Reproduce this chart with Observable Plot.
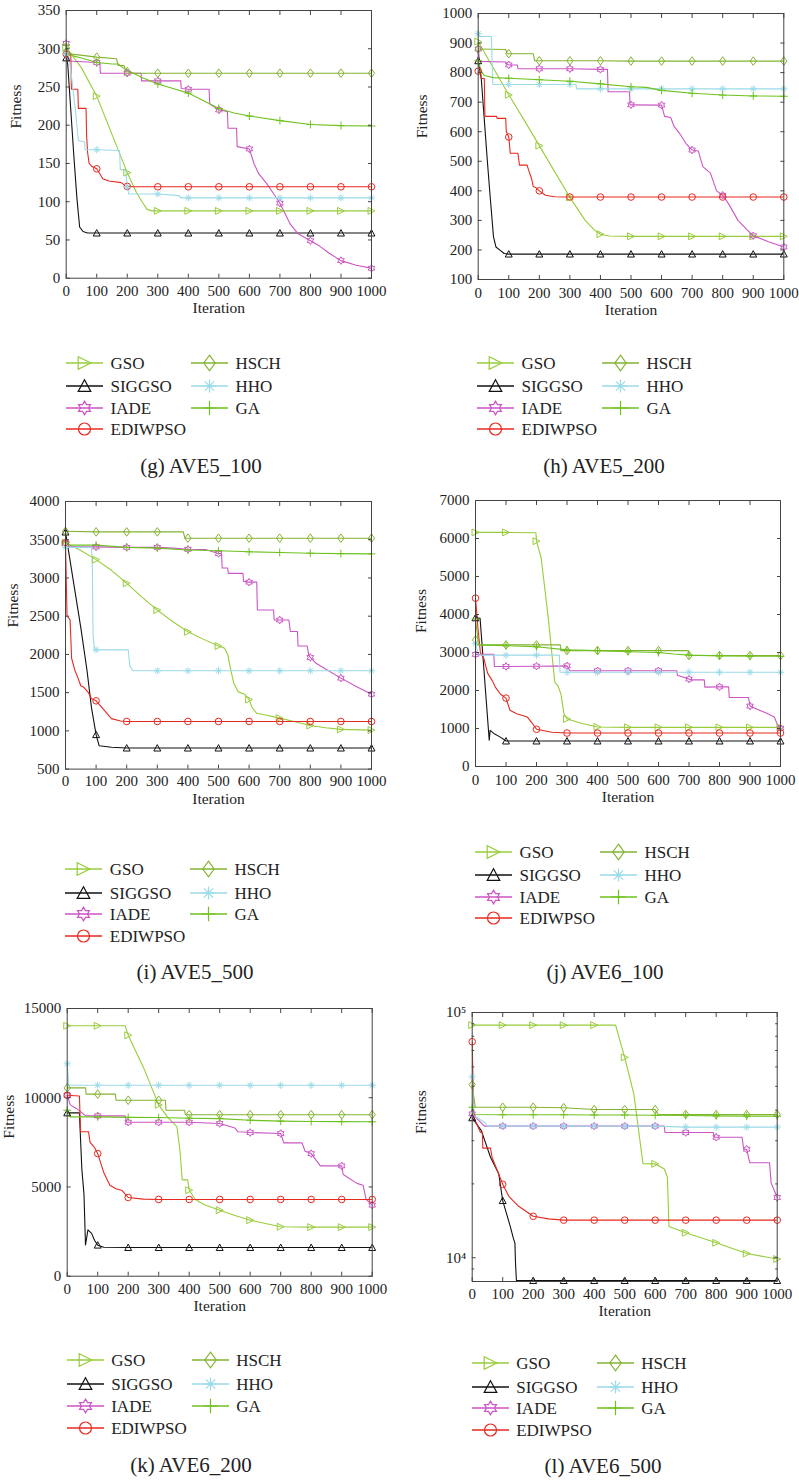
<!DOCTYPE html>
<html><head><meta charset="utf-8">
<script src="https://cdn.jsdelivr.net/npm/d3@7"></script>
<script src="https://cdn.jsdelivr.net/npm/@observablehq/plot@0.6"></script>
<style>
body{margin:0;background:#fff;}
#root{position:relative;width:799px;height:1480px;overflow:hidden;background:#fff;font-family:"Liberation Serif","DejaVu Serif",serif;color:#222;}
.lt{position:absolute;font-size:17px;line-height:1;white-space:nowrap;transform:translateY(-50%);}
.cap{position:absolute;font-size:21px;line-height:1;white-space:nowrap;transform:translate(-50%,-50%);}
</style></head><body><div id="root"></div>
<script>
// ---------- data ----------
const seriesNames = ["GSO","SIGGSO","IADE","EDIWPSO","HSCH","HHO","GA"];
const xTicks = [0,100,200,300,400,500,600,700,800,900,1000];
const gYTicks = [0,50,100,150,200,250,300,350];
const hYTicks = [100,200,300,400,500,600,700,800,900,1000];
const iYTicks = [500,1000,1500,2000,2500,3000,3500,4000];
const jYTicks = [0,1000,2000,3000,4000,5000,6000,7000];
const kYTicks = [0,5000,10000,15000];
const lYTicks = [10000,100000];
const lYMinor = [9000,20000,30000,40000,50000,60000,70000,80000,90000];
const lYLabels = ["10\u2074","10\u2075"];

// (g) AVE5_100
const gGSO = [[0,302],[50,275],[100,238],[150,188],[200,138],[230,112],[250,99],[265,90],[280,88],[300,88],[400,88],[500,88],[600,88],[700,88],[800,88],[900,88],[1000,88]];
const gSIGGSO = [[0,288],[5,280],[15,220],[25,160],[35,105],[44,67],[55,61],[70,59],[100,59],[200,59],[300,59],[400,59],[500,59],[600,59],[700,59],[800,59],[900,59],[1000,59]];
const gIADE = [[0,307],[6,284],[100,282],[110,282],[112,268],[200,268],[245,268],[247,258],[300,258],[375,258],[377,248],[400,247],[468,247],[470,228],[500,220],[528,218],[530,196],[558,196],[560,172],[600,169],[615,150],[630,137],[658,123],[680,110],[700,98],[715,86],[735,70],[760,58],[800,49],[830,42],[860,33],[900,23],[950,17],[1000,13]];
const gEDIWPSO = [[0,293],[15,293],[17,247],[38,247],[40,222],[65,222],[67,185],[70,165],[75,150],[85,146],[100,143],[120,130],[140,127],[180,125],[190,122],[200,120],[220,119.5],[300,119.5],[400,119.5],[500,119.5],[600,119.5],[700,119.5],[800,119.5],[900,119.5],[1000,119.5]];
const gHSCH = [[0,296],[20,293],[100,289],[165,287],[170,278],[190,278],[195,270],[200,270],[220,268],[300,268],[400,268],[500,268],[600,268],[700,268],[800,268],[900,268],[1000,268]];
const gHHO = [[0,293],[10,288],[20,255],[30,220],[40,180],[60,178],[62,168],[100,168],[175,167],[177,142],[195,142],[200,119],[205,110],[300,110],[370,108],[375,105],[400,105],[500,105],[600,105],[700,105],[800,105],[900,105],[1000,105]];
const gGA = [[0,305],[10,292],[50,288],[100,282],[150,280],[170,280],[190,274],[210,270],[250,262],[300,254],[350,248],[400,242],[450,232],[500,222],[550,216],[600,212],[700,206],[800,201],[900,199.5],[1000,199]];

// (h) AVE5_200
const hGSO = [[0,905],[50,815],[100,725],[150,640],[200,553],[250,465],[300,378],[350,300],[380,268],[400,253],[430,247],[500,246],[600,246],[700,246],[800,246],[900,246],[1000,246]];
const hSIGGSO = [[0,840],[10,780],[20,640],[30,500],[40,370],[50,245],[58,210],[70,200],[85,188],[100,186],[200,186],[300,186],[400,186],[500,186],[600,186],[700,186],[800,186],[900,186],[1000,186]];
const hIADE = [[0,880],[5,838],[90,836],[95,828],[100,826],[128,826],[130,813],[200,813],[300,813],[400,811],[423,811],[425,735],[495,735],[497,691],[500,691],[600,690],[610,652],[630,648],[640,620],[660,593],[680,560],[700,538],[720,535],[735,482],[760,460],[780,400],[800,385],[820,355],[850,300],[880,268],[900,248],[950,228],[1000,210]];
const hEDIWPSO = [[0,805],[8,800],[10,780],[20,780],[22,652],[60,652],[62,645],[90,645],[92,600],[100,582],[105,527],[130,527],[135,487],[160,487],[165,470],[175,440],[180,415],[190,410],[200,400],[220,385],[250,380],[300,379],[400,379],[500,379],[600,379],[700,379],[800,379],[900,379],[1000,379]];
const hHSCH = [[0,880],[90,878],[95,864],[100,864],[180,864],[185,840],[200,840],[300,840],[400,840],[500,839],[600,839],[700,839],[800,839],[900,839],[1000,839]];
const hHHO = [[0,932],[5,922],[43,922],[48,760],[100,760],[200,760],[300,760],[320,760],[322,745],[400,745],[500,745],[600,745],[700,745],[800,745],[900,745],[1000,745]];
const hGA = [[0,840],[10,805],[20,790],[50,783],[100,781],[200,776],[300,771],[400,762],[500,752],[550,750],[600,740],[700,730],[800,724],[900,721],[1000,720]];

// (i) AVE5_500
const iGSO = [[0,3460],[50,3360],[100,3240],[150,3100],[200,2930],[250,2750],[300,2580],[350,2430],[400,2295],[450,2200],[500,2110],[520,2080],[530,2000],[540,1800],[550,1620],[565,1510],[585,1480],[600,1410],[610,1300],[625,1230],[650,1210],[700,1167],[750,1120],[800,1070],[850,1040],[900,1020],[1000,1010]];
const iSIGGSO = [[0,3600],[10,3350],[30,2850],[50,2350],[70,1800],[85,1300],[100,950],[110,805],[150,785],[200,775],[300,775],[400,775],[500,775],[600,775],[700,775],[800,775],[900,775],[1000,775]];
const iIADE = [[0,3450],[5,3410],[100,3406],[200,3400],[300,3400],[350,3390],[400,3375],[460,3370],[500,3320],[510,3320],[512,3130],[530,3130],[532,3060],[580,3060],[582,2955],[600,2945],[625,2945],[627,2580],[680,2580],[682,2450],[700,2450],[730,2450],[735,2300],[758,2300],[760,2110],[790,2110],[795,1990],[800,1960],[820,1880],[850,1810],[900,1690],[950,1580],[1000,1480]];
const iEDIWPSO = [[0,3460],[5,2500],[10,2480],[15,2450],[20,1950],[30,1800],[40,1700],[50,1590],[60,1570],[75,1500],[85,1420],[100,1393],[120,1300],[150,1160],[180,1130],[200,1123],[300,1123],[400,1123],[500,1123],[600,1123],[700,1123],[800,1123],[900,1123],[1000,1123]];
const iHSCH = [[0,3610],[100,3603],[200,3603],[300,3603],[385,3603],[390,3520],[400,3520],[500,3520],[600,3520],[700,3520],[800,3520],[900,3520],[1000,3520]];
const iHHO = [[0,3400],[85,3400],[88,3115],[90,2256],[95,2060],[100,2060],[205,2060],[210,1850],[220,1786],[300,1786],[400,1786],[500,1786],[600,1786],[700,1786],[800,1786],[900,1786],[1000,1786]];
const iGA = [[0,3460],[10,3430],[100,3430],[200,3400],[300,3390],[400,3365],[500,3355],[600,3342],[700,3333],[800,3324],[900,3318],[1000,3315]];

// (j) AVE6_100
const jGSO = [[0,6160],[100,6160],[198,6150],[200,5930],[215,5500],[230,4500],[240,3800],[250,3000],[260,2220],[270,2130],[280,1910],[290,1390],[300,1250],[350,1130],[400,1040],[500,1030],[600,1030],[700,1030],[800,1030],[900,1030],[1000,1030]];
const jSIGGSO = [[0,3912],[15,3900],[45,690],[48,950],[60,870],[80,780],[100,670],[200,670],[300,670],[400,670],[500,670],[600,670],[700,670],[800,670],[900,670],[1000,670]];
const jIADE = [[0,2950],[60,2950],[62,2630],[100,2632],[200,2640],[300,2649],[310,2520],[400,2520],[500,2520],[600,2520],[660,2520],[662,2400],[700,2300],[710,2280],[750,2280],[752,2090],[800,2096],[830,2096],[832,1816],[895,1816],[900,1590],[910,1550],[950,1420],[980,1300],[990,1100],[1000,1010]];
const jEDIWPSO = [[0,4430],[8,3650],[16,3000],[27,2850],[40,2450],[55,2260],[65,2090],[82,1900],[100,1800],[113,1480],[135,1390],[170,1300],[185,1150],[200,980],[250,900],[300,880],[400,880],[500,880],[600,880],[700,880],[800,880],[900,880],[1000,880]];
const jHSCH = [[0,3330],[5,3200],[100,3200],[200,3200],[278,3200],[280,3050],[300,3050],[400,3050],[500,3050],[600,3050],[698,3050],[700,2920],[800,2920],[900,2920],[1000,2920]];
const jHHO = [[0,3230],[10,2930],[100,2930],[200,2930],[275,2930],[277,2480],[300,2480],[400,2480],[500,2480],[600,2480],[700,2480],[800,2480],[900,2480],[1000,2480]];
const jGA = [[0,3880],[10,3200],[100,3180],[200,3150],[300,3070],[400,3050],[500,3020],[600,3000],[650,2960],[700,2930],[800,2910],[900,2900],[1000,2900]];

// (k) AVE6_200
const kGSO = [[0,14030],[100,14030],[190,14030],[200,13500],[250,11700],[300,9600],[330,8900],[360,8370],[370,7000],[377,5400],[395,5400],[400,4820],[420,4300],[450,4000],[500,3700],[550,3400],[600,3140],[650,2950],[700,2770],[800,2750],[900,2750],[1000,2750]];
const kSIGGSO = [[0,9150],[40,9150],[48,6000],[55,4600],[60,1750],[68,2600],[80,2400],[90,2000],[100,1740],[120,1620],[200,1606],[300,1606],[400,1606],[500,1606],[600,1606],[700,1606],[800,1606],[900,1606],[1000,1606]];
const kIADE = [[0,10140],[10,9600],[30,9400],[60,9000],[100,8985],[190,8985],[195,8630],[200,8630],[300,8630],[400,8630],[500,8555],[550,8300],[560,8090],[600,8050],[700,7995],[710,7470],[770,7470],[780,7000],[800,6870],[830,6180],[900,6180],[905,5700],[950,5200],[970,5100],[980,4300],[1000,3980]];
const kEDIWPSO = [[0,10140],[40,10100],[44,8090],[70,8090],[75,7500],[90,7200],[100,6870],[120,5800],[140,5100],[160,4900],[180,4800],[200,4410],[250,4320],[300,4300],[400,4300],[500,4300],[600,4300],[700,4300],[800,4300],[900,4300],[1000,4300]];
const kHSCH = [[0,10550],[60,10550],[62,10200],[100,10200],[158,10200],[160,9860],[200,9860],[300,9860],[322,9860],[324,9300],[385,9300],[387,9060],[400,9050],[500,9050],[600,9050],[700,9050],[800,9050],[900,9050],[1000,9050]];
const kHHO = [[0,11900],[5,10700],[100,10700],[200,10700],[300,10700],[400,10700],[500,10700],[600,10700],[700,10700],[800,10700],[900,10700],[1000,10700]];
const kGA = [[0,9300],[10,8930],[100,8930],[200,8900],[300,8890],[400,8850],[500,8830],[600,8740],[700,8690],[800,8670],[900,8660],[1000,8650]];

// (l) AVE6_500
const lGSO = [[0,88800],[100,88800],[200,88800],[300,88800],[400,88800],[470,88800],[500,65600],[530,46500],[550,30000],[560,24200],[600,24150],[630,23000],[640,21300],[645,13400],[700,12640],[800,11500],[900,10400],[1000,9880]];
const lSIGGSO = [[0,37200],[30,33000],[60,25700],[87,22000],[100,17100],[125,13400],[135,12000],[140,11500],[142,9500],[145,8070],[200,8070],[300,8070],[400,8070],[500,8070],[600,8070],[700,8070],[800,8070],[900,8070],[1000,8070]];
const lIADE = [[0,38600],[40,34400],[100,34400],[200,34400],[300,34400],[400,34400],[500,34400],[600,34400],[630,34400],[632,32400],[700,32400],[790,32400],[795,31000],[800,31000],[885,31000],[890,27700],[900,27700],[910,24400],[975,24400],[980,20200],[1000,17600]];
const lEDIWPSO = [[0,76000],[5,37400],[27,32500],[33,32500],[35,28000],[60,28000],[65,25700],[100,19930],[120,17800],[150,16300],[200,14760],[250,14400],[300,14230],[400,14230],[500,14230],[600,14230],[700,14230],[800,14230],[900,14230],[1000,14230]];
const lHSCH = [[0,50800],[10,41100],[100,41100],[200,41100],[300,40900],[400,40200],[500,40200],[600,40200],[610,38400],[700,38400],[800,38400],[900,38400],[1000,38400]];
const lHHO = [[0,54700],[5,38000],[40,35700],[50,34400],[100,34400],[200,34400],[300,34400],[400,34400],[500,34400],[600,34400],[700,34100],[800,34100],[900,34100],[1000,34100]];
const lGA = [[0,41100],[5,38400],[100,38300],[200,38300],[300,38300],[400,38200],[500,38200],[600,38100],[700,38000],[800,37900],[900,37800],[1000,37800]];

// ---------- styles ----------
const colors = ["#98cc3a","#111111","#cc55c4","#e8291f","#84b331","#9adbe8","#6ec21e"];
function rOf(size){ return Math.sqrt(size/Math.PI); }
const symTriRight = {draw(c,s){const r=rOf(s)*1.05;c.moveTo(r,0);c.lineTo(-r,-r);c.lineTo(-r,r);c.closePath();}};
const symTriUp = {draw(c,s){const r=rOf(s)*1.05;c.moveTo(0,-r);c.lineTo(r,r*0.85);c.lineTo(-r,r*0.85);c.closePath();}};
const symHexagram = {draw(c,s){const R=rOf(s)*1.15, ri=R/Math.sqrt(3);for(let k=0;k<12;k++){const a=-Math.PI/2+k*Math.PI/6, rr=k%2?ri:R;const px=rr*Math.cos(a), py=rr*Math.sin(a);if(k===0)c.moveTo(px,py);else c.lineTo(px,py);}c.closePath();}};
const symDiamond = {draw(c,s){const r=rOf(s);c.moveTo(0,-r*1.3);c.lineTo(r*0.95,0);c.lineTo(0,r*1.3);c.lineTo(-r*0.95,0);c.closePath();}};
const symAsterisk = {draw(c,s){const r=rOf(s)*1.1, q=r*0.7071;c.moveTo(0,-r);c.lineTo(0,r);c.moveTo(-r,0);c.lineTo(r,0);c.moveTo(-q,-q);c.lineTo(q,q);c.moveTo(-q,q);c.lineTo(q,-q);}};
const symPlus = {draw(c,s){const r=rOf(s)*1.2;c.moveTo(0,-r);c.lineTo(0,r);c.moveTo(-r,0);c.lineTo(r,0);}};
const symCircle = {draw(c,s){const r=rOf(s);c.moveTo(r,0);c.arc(0,0,r,0,2*Math.PI);}};
const symbols = [symTriRight,symTriUp,symHexagram,symCircle,symDiamond,symAsterisk,symPlus];

// ---------- layout ----------
const panels = [
  {data:[gGSO,gSIGGSO,gIADE,gEDIWPSO,gHSCH,gHHO,gGA], yDomain:[0,350], yTicks:gYTicks, col:0, frame:[65.7,371,10,277.7], xlab:12.3, fitX:16, fitY:128, iterY:312, cap:"(g) AVE5_100", capPos:[201,466], leg:{x1:66,x2:191,rows:[362.7,385.7,407.7,429.3]}},
  {data:[hGSO,hSIGGSO,hIADE,hEDIWPSO,hHSCH,hHHO,hGA], yDomain:[100,1000], yTicks:hYTicks, col:1, frame:[477.7,783.3,12.7,278.7], xlab:13, fitX:421.7, fitY:137.5, iterY:314, cap:"(h) AVE5_200", capPos:[604,466], leg:{x1:477,x2:602,rows:[362.7,385.7,407.7,429.3]}},
  {data:[iGSO,iSIGGSO,iIADE,iEDIWPSO,iHSCH,iHHO,iGA], yDomain:[500,4000], yTicks:iYTicks, col:0, frame:[65,371,500.7,768.3], xlab:11.5, fitX:13, fitY:626.7, iterY:802.7, cap:"(i) AVE5_500", capPos:[195,971.7], leg:{x1:65.3,x2:190,rows:[869.3,892.7,914.3,935.7]}},
  {data:[jGSO,jSIGGSO,jIADE,jEDIWPSO,jHSCH,jHHO,jGA], yDomain:[0,7000], yTicks:jYTicks, col:1, frame:[475,780,500,766], xlab:13, fitX:421, fitY:632.5, iterY:801, cap:"(j) AVE6_100", capPos:[605,971.7], leg:{x1:475,x2:600,rows:[851.7,875,896.7,918.3]}},
  {data:[kGSO,kSIGGSO,kIADE,kEDIWPSO,kHSCH,kHHO,kGA], yDomain:[0,15000], yTicks:kYTicks, col:0, frame:[66.7,371.7,1008.3,1276], xlab:13, fitX:9, fitY:1138.5, iterY:1310.7, cap:"(k) AVE6_200", capPos:[191,1465], leg:{x1:66.7,x2:191.7,rows:[1360,1384,1405.7,1427.7]}},
  {data:[lGSO,lSIGGSO,lIADE,lEDIWPSO,lHSCH,lHHO,lGA], yDomain:[8000,100000], yTicks:lYTicks, log:true, minor:lYMinor, labels:lYLabels, col:1, frame:[471.7,776.7,1011.7,1280.7], xlab:12.7, fitX:420.7, fitY:1133.3, iterY:1315, cap:"(l) AVE6_500", capPos:[603,1465.7], leg:{x1:471.7,x2:596.7,rows:[1362.7,1386.7,1407.7,1430]}}
];

const root = document.getElementById("root");
function place(el,left,top){el.style.position="absolute";el.style.left=left+"px";el.style.top=top+"px";root.appendChild(el);}
const isMarker = d => d[0] % 100 === 0;
const fX = d => d[0], fY = d => d[1];

panels.forEach(p => {
  const colLeft = p.col === 0 ? 0 : 400;
  const W = p.col === 0 ? 400 : 399;
  const [fl, fr, ft, fb] = p.frame;
  const mt = 20, H = Math.round(fb - ft + 70);
  const marks = [];
  p.data.forEach((arr,k) => marks.push(Plot.line(arr, {x:fX, y:fY, stroke:colors[k], strokeWidth:1.1, clip:true})));
  p.data.forEach((arr,k) => marks.push(Plot.dot(arr.filter(isMarker), {x:fX, y:fY, symbol:symbols[k], r:3.3, stroke:colors[k], fill:"none", strokeWidth:1})));
  marks.push(Plot.frame({stroke:"#444", strokeWidth:1}));
  const fmt = p.labels ? (d => p.labels[p.yTicks.indexOf(d)]) : (d => String(d));
  marks.push(Plot.axisX(xTicks, {anchor:"bottom", tickSize:-4, tickPadding:p.xlab - 5.6 + 4, tickFormat:d=>String(d), label:null, stroke:"#444", fill:"#222"}));
  marks.push(Plot.axisX(xTicks, {anchor:"top", tickSize:-4, fill:"none", label:null, stroke:"#444"}));
  marks.push(Plot.axisY(p.yTicks, {anchor:"left", tickSize:-4, tickPadding:10, tickFormat:fmt, label:null, stroke:"#444", fill:"#222"}));
  marks.push(Plot.axisY(p.yTicks, {anchor:"right", tickSize:-4, fill:"none", label:null, stroke:"#444"}));
  if (p.minor) {
    marks.push(Plot.axisY(p.minor, {anchor:"left", tickSize:-2.5, fill:"none", label:null, stroke:"#444"}));
    marks.push(Plot.axisY(p.minor, {anchor:"right", tickSize:-2.5, fill:"none", label:null, stroke:"#444"}));
  }
  marks.push(Plot.text(["Fitness"], {text:d=>d, frameAnchor:"left", dx:p.fitX - fl, dy:p.fitY - (ft+fb)/2, rotate:-90, fontSize:15.5, fill:"#222"}));
  marks.push(Plot.text(["Iteration"], {text:d=>d, frameAnchor:"bottom", dy:p.iterY - fb, fontSize:15.5, fill:"#222"}));
  const svg = Plot.plot({
    width:W, height:H,
    marginLeft:fl - colLeft, marginRight:colLeft + W - fr, marginTop:mt, marginBottom:H - mt - (fb - ft),
    x:{domain:[0,1000]},
    y:{domain:p.yDomain, type:p.log ? "log" : "linear"},
    style:{fontFamily:"'Liberation Serif','DejaVu Serif',serif", fontSize:"15px", color:"#333", background:"transparent", overflow:"visible"},
    marks
  });
  place(svg, colLeft, ft - mt);

  // legend
  seriesNames.forEach((name,k) => {
    const col = k < 4 ? 0 : 1, row = k < 4 ? k : k - 4;
    const x = col ? p.leg.x2 : p.leg.x1, y = p.leg.rows[row];
    const ns = "http://www.w3.org/2000/svg";
    const s = document.createElementNS(ns,"svg");
    s.setAttribute("width",38); s.setAttribute("height",20);
    s.style.overflow = "visible";
    const ln = document.createElementNS(ns,"line");
    ln.setAttribute("x1",0); ln.setAttribute("x2",37); ln.setAttribute("y1",10); ln.setAttribute("y2",10);
    ln.setAttribute("stroke",colors[k]); ln.setAttribute("stroke-width",1.3);
    s.appendChild(ln);
    const pth = document.createElementNS(ns,"path");
    pth.setAttribute("d", d3.symbol(symbols[k], 6*6*Math.PI)());
    pth.setAttribute("transform","translate(18.5,10)");
    pth.setAttribute("fill","none"); pth.setAttribute("stroke",colors[k]); pth.setAttribute("stroke-width",1.2);
    s.appendChild(pth);
    place(s, x, y - 10);
    const t = document.createElement("div");
    t.className = "lt"; t.textContent = name;
    place(t, x + 44.5, y);
  });
  const cap = document.createElement("div");
  cap.className = "cap"; cap.textContent = p.cap;
  place(cap, p.capPos[0], p.capPos[1]);
});
</script></body></html>
